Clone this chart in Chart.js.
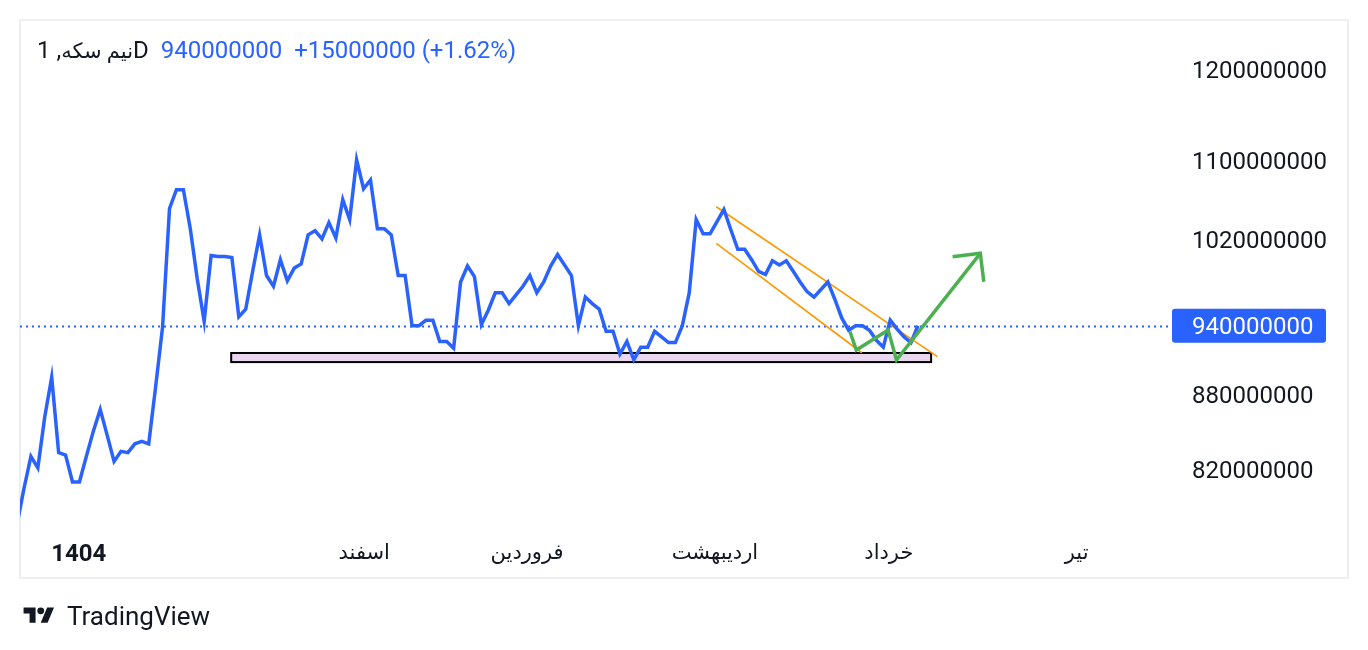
<!DOCTYPE html>
<html>
<head>
<meta charset="utf-8">
<script src="https://cdn.jsdelivr.net/npm/chart.js@4.4.1/dist/chart.umd.min.js"></script>
<style>
    html, body { margin: 0; padding: 0; background: #ffffff; }
    body { width: 1368px; height: 650px; position: relative; overflow: hidden; font-family: Roboto, "DejaVu Sans", sans-serif; }
    #priceChart { position: absolute; left: 0; top: 0; }
    #legend { position: absolute; left: 37px; top: 35px; font-size: 24px; line-height: 30px; color: #131722; direction: ltr; white-space: nowrap; }
    #legend .fa { font-size: 21px; }
    #legend .blue { color: #2962ff; margin-left: 12px; }
    #brand { position: absolute; left: 20px; top: 601px; height: 30px; display: flex; align-items: center; color: #131722; font-size: 26px; }
    #brand svg { width: 38px; height: 24px; margin-right: 9px; }
</style>
</head>
<body>
<canvas id="priceChart" width="1368" height="650"></canvas>
<div id="legend"><span id="symbol"></span><span class="blue" id="lastPrice"></span><span class="blue" id="change"></span></div>
<div id="brand">
    <svg viewBox="0 0 36 28"><path d="M14 22H7V11H0V4h14v18z" fill="#131722"/><circle cx="20" cy="8" r="4" fill="#131722"/><path d="M28 22h-8l7.5-18h8L28 22z" fill="#131722"/></svg>
    <span>TradingView</span>
</div>
<script>
const symbolName = 'نیم سکه';
const interval = '1D';

// values in millions (rial)
const priceValues = [
    778, 805, 830, 821, 862, 895, 833, 831, 810, 810,
    830, 850, 868, 847, 826, 834, 833, 840, 842, 840,
    887, 939, 1051, 1070, 1070, 1031, 983, 944, 1005, 1004,
    1004, 1003, 948, 955, 990, 1025, 986, 976, 1001, 981,
    993, 997, 1025, 1029, 1021, 1037, 1022, 1060, 1040, 1101,
    1071, 1080, 1031, 1031, 1025, 986, 986, 940, 940, 945,
    945, 926, 926, 920, 980, 995, 985, 941, 954, 970,
    970, 960, 968, 976, 986, 970, 980, 995, 1006, 996,
    986, 940, 966, 960, 955, 935, 935, 915, 926, 910,
    921, 921, 935, 930, 925, 925, 940, 970, 1040, 1026,
    1026, 1038, 1050, 1030, 1011, 1011, 1001, 990, 987, 1000,
    996, 1000, 990, 980, 971, 966, 973, 980, 964, 947,
    936, 940, 940, 936, 927, 921, 945, 937, 930, 925,
    940
];

const monthTickPositions = [8.9, 50.1, 73.6, 100.7, 125.8, 152.9];
const monthLabels = ['1404', 'اسفند', 'فروردین', 'اردیبهشت', 'خرداد', 'تیر'];
const yTickValues = [820, 880, 940, 1020, 1100, 1200];

// drawings (bar index, price in millions)
const channelUpper = [[100.9, 1052.8], [132.8, 912.7]];
const channelLower = [[100.9, 1016.7], [121.9, 916.1]];
const greenPath = [[120.2, 934.6], [121.1, 918.5], [125.7, 936.2], [126.9, 909.8], [139.0, 1007.1]];
const greenHead = [[135.0, 1003.8], [139.0, 1007.1], [139.5, 980.2]];
const supportZone = { from: 30.9, to: 131.9, top: 915.9, bottom: 908.0 };

const FONT = 'Roboto, "DejaVu Sans", sans-serif';
const BLUE = '#2962ff';

const lastValue = priceValues[priceValues.length - 1];
const prevValue = priceValues[priceValues.length - 2];
const diff = lastValue - prevValue;

const symbolEl = document.getElementById('symbol');
const faSpan = document.createElement('span');
faSpan.className = 'fa';
faSpan.textContent = symbolName;
symbolEl.appendChild(faSpan);
symbolEl.appendChild(document.createTextNode(', ' + interval));
document.getElementById('lastPrice').textContent = String(lastValue * 1000000);
document.getElementById('change').textContent =
    '+' + (diff * 1000000) + ' (+' + (diff / prevValue * 100).toFixed(2) + '%)';

const toPoints = arr => arr.map(p => ({ x: p[0], y: p[1] }));

const overlayPlugin = {
    id: 'overlay',
    beforeDraw(chart) {
        const c = chart.ctx;
        c.save();
        c.strokeStyle = '#eceef2';
        c.lineWidth = 2;
        c.strokeRect(20, 20, 1328, 558);
        c.restore();
    },
    beforeDatasetsDraw(chart) {
        const c = chart.ctx;
        const x = chart.scales.x, y = chart.scales.y;
        const area = chart.chartArea;
        c.save();
        // last price line
        const py = Math.round(y.getPixelForValue(lastValue)) + 0.5;
        c.strokeStyle = BLUE;
        c.lineWidth = 2;
        c.setLineDash([2, 4]);
        c.beginPath();
        c.moveTo(area.left, py);
        c.lineTo(area.right, py);
        c.stroke();
        c.setLineDash([]);
        // support rectangle
        const x0 = x.getPixelForValue(supportZone.from);
        const x1 = x.getPixelForValue(supportZone.to);
        const y0 = y.getPixelForValue(supportZone.top);
        const y1 = y.getPixelForValue(supportZone.bottom);
        c.fillStyle = '#ead6ef';
        c.fillRect(x0, y0, x1 - x0, y1 - y0);
        c.strokeStyle = '#000000';
        c.lineWidth = 2;
        c.strokeRect(x0, y0, x1 - x0, y1 - y0);
        c.restore();
    },
    afterDraw(chart) {
        const c = chart.ctx;
        const y = chart.scales.y;
        const py = y.getPixelForValue(lastValue);
        const left = y.left;
        c.save();
        c.fillStyle = BLUE;
        c.beginPath();
        c.roundRect(left, py - 17, 154, 34, 3);
        c.fill();
        c.fillStyle = '#ffffff';
        c.font = '24px ' + FONT;
        c.textAlign = 'left';
        c.textBaseline = 'middle';
        c.fillText(String(lastValue * 1000000), left + 20, py + 2);
        c.restore();
    }
};

const chart = new Chart(document.getElementById('priceChart').getContext('2d'), {
    type: 'line',
    data: {
        datasets: [
            {
                data: toPoints(greenPath),
                borderColor: '#4caf50',
                borderWidth: 3.5,
                order: 0
            },
            {
                data: toPoints(greenHead),
                borderColor: '#4caf50',
                borderWidth: 3.5,
                order: 0
            },
            {
                data: priceValues.map((v, i) => ({ x: i, y: v })),
                borderColor: BLUE,
                borderWidth: 3.5,
                order: 1
            },
            {
                data: toPoints(channelUpper),
                borderColor: '#ff9800',
                borderWidth: 1.6,
                order: 2
            },
            {
                data: toPoints(channelLower),
                borderColor: '#ff9800',
                borderWidth: 1.6,
                order: 2
            }
        ]
    },
    options: {
        responsive: false,
        animation: false,
        devicePixelRatio: 1,
        layout: { padding: { left: 20, right: 20, top: 20, bottom: 72 } },
        elements: {
            point: { radius: 0 },
            line: { tension: 0, fill: false }
        },
        plugins: {
            legend: { display: false },
            tooltip: { enabled: false }
        },
        scales: {
            x: {
                type: 'linear',
                min: 0.426,
                max: 166.66,
                grid: { display: false, drawTicks: false },
                border: { display: false },
                afterBuildTicks: scale => {
                    scale.ticks = monthTickPositions.map(v => ({ value: v }));
                },
                afterFit: scale => {
                    scale.height = 45;
                    scale.paddingLeft = 0;
                    scale.paddingRight = 0;
                },
                ticks: {
                    autoSkip: false,
                    maxRotation: 0,
                    padding: 8,
                    color: '#131722',
                    font: ctx => ctx.index === 0
                        ? { family: FONT, size: 24, weight: 'bold' }
                        : { family: FONT, size: 21, weight: 'normal' },
                    callback: (value, index) => monthLabels[index]
                }
            },
            y: {
                type: 'logarithmic',
                position: 'right',
                min: 771.6,
                max: 1257.7,
                grid: { display: false, drawTicks: false },
                border: { display: false },
                afterBuildTicks: scale => {
                    scale.ticks = yTickValues.map(v => ({ value: v }));
                },
                afterFit: scale => {
                    scale.width = 176;
                    scale.paddingTop = 0;
                    scale.paddingBottom = 0;
                },
                ticks: {
                    padding: 20,
                    labelOffset: 2.5,
                    color: '#131722',
                    font: { family: FONT, size: 24 },
                    callback: value => String(Math.round(value * 1000000))
                }
            }
        }
    },
    plugins: [overlayPlugin]
});
</script>
</body>
</html>
